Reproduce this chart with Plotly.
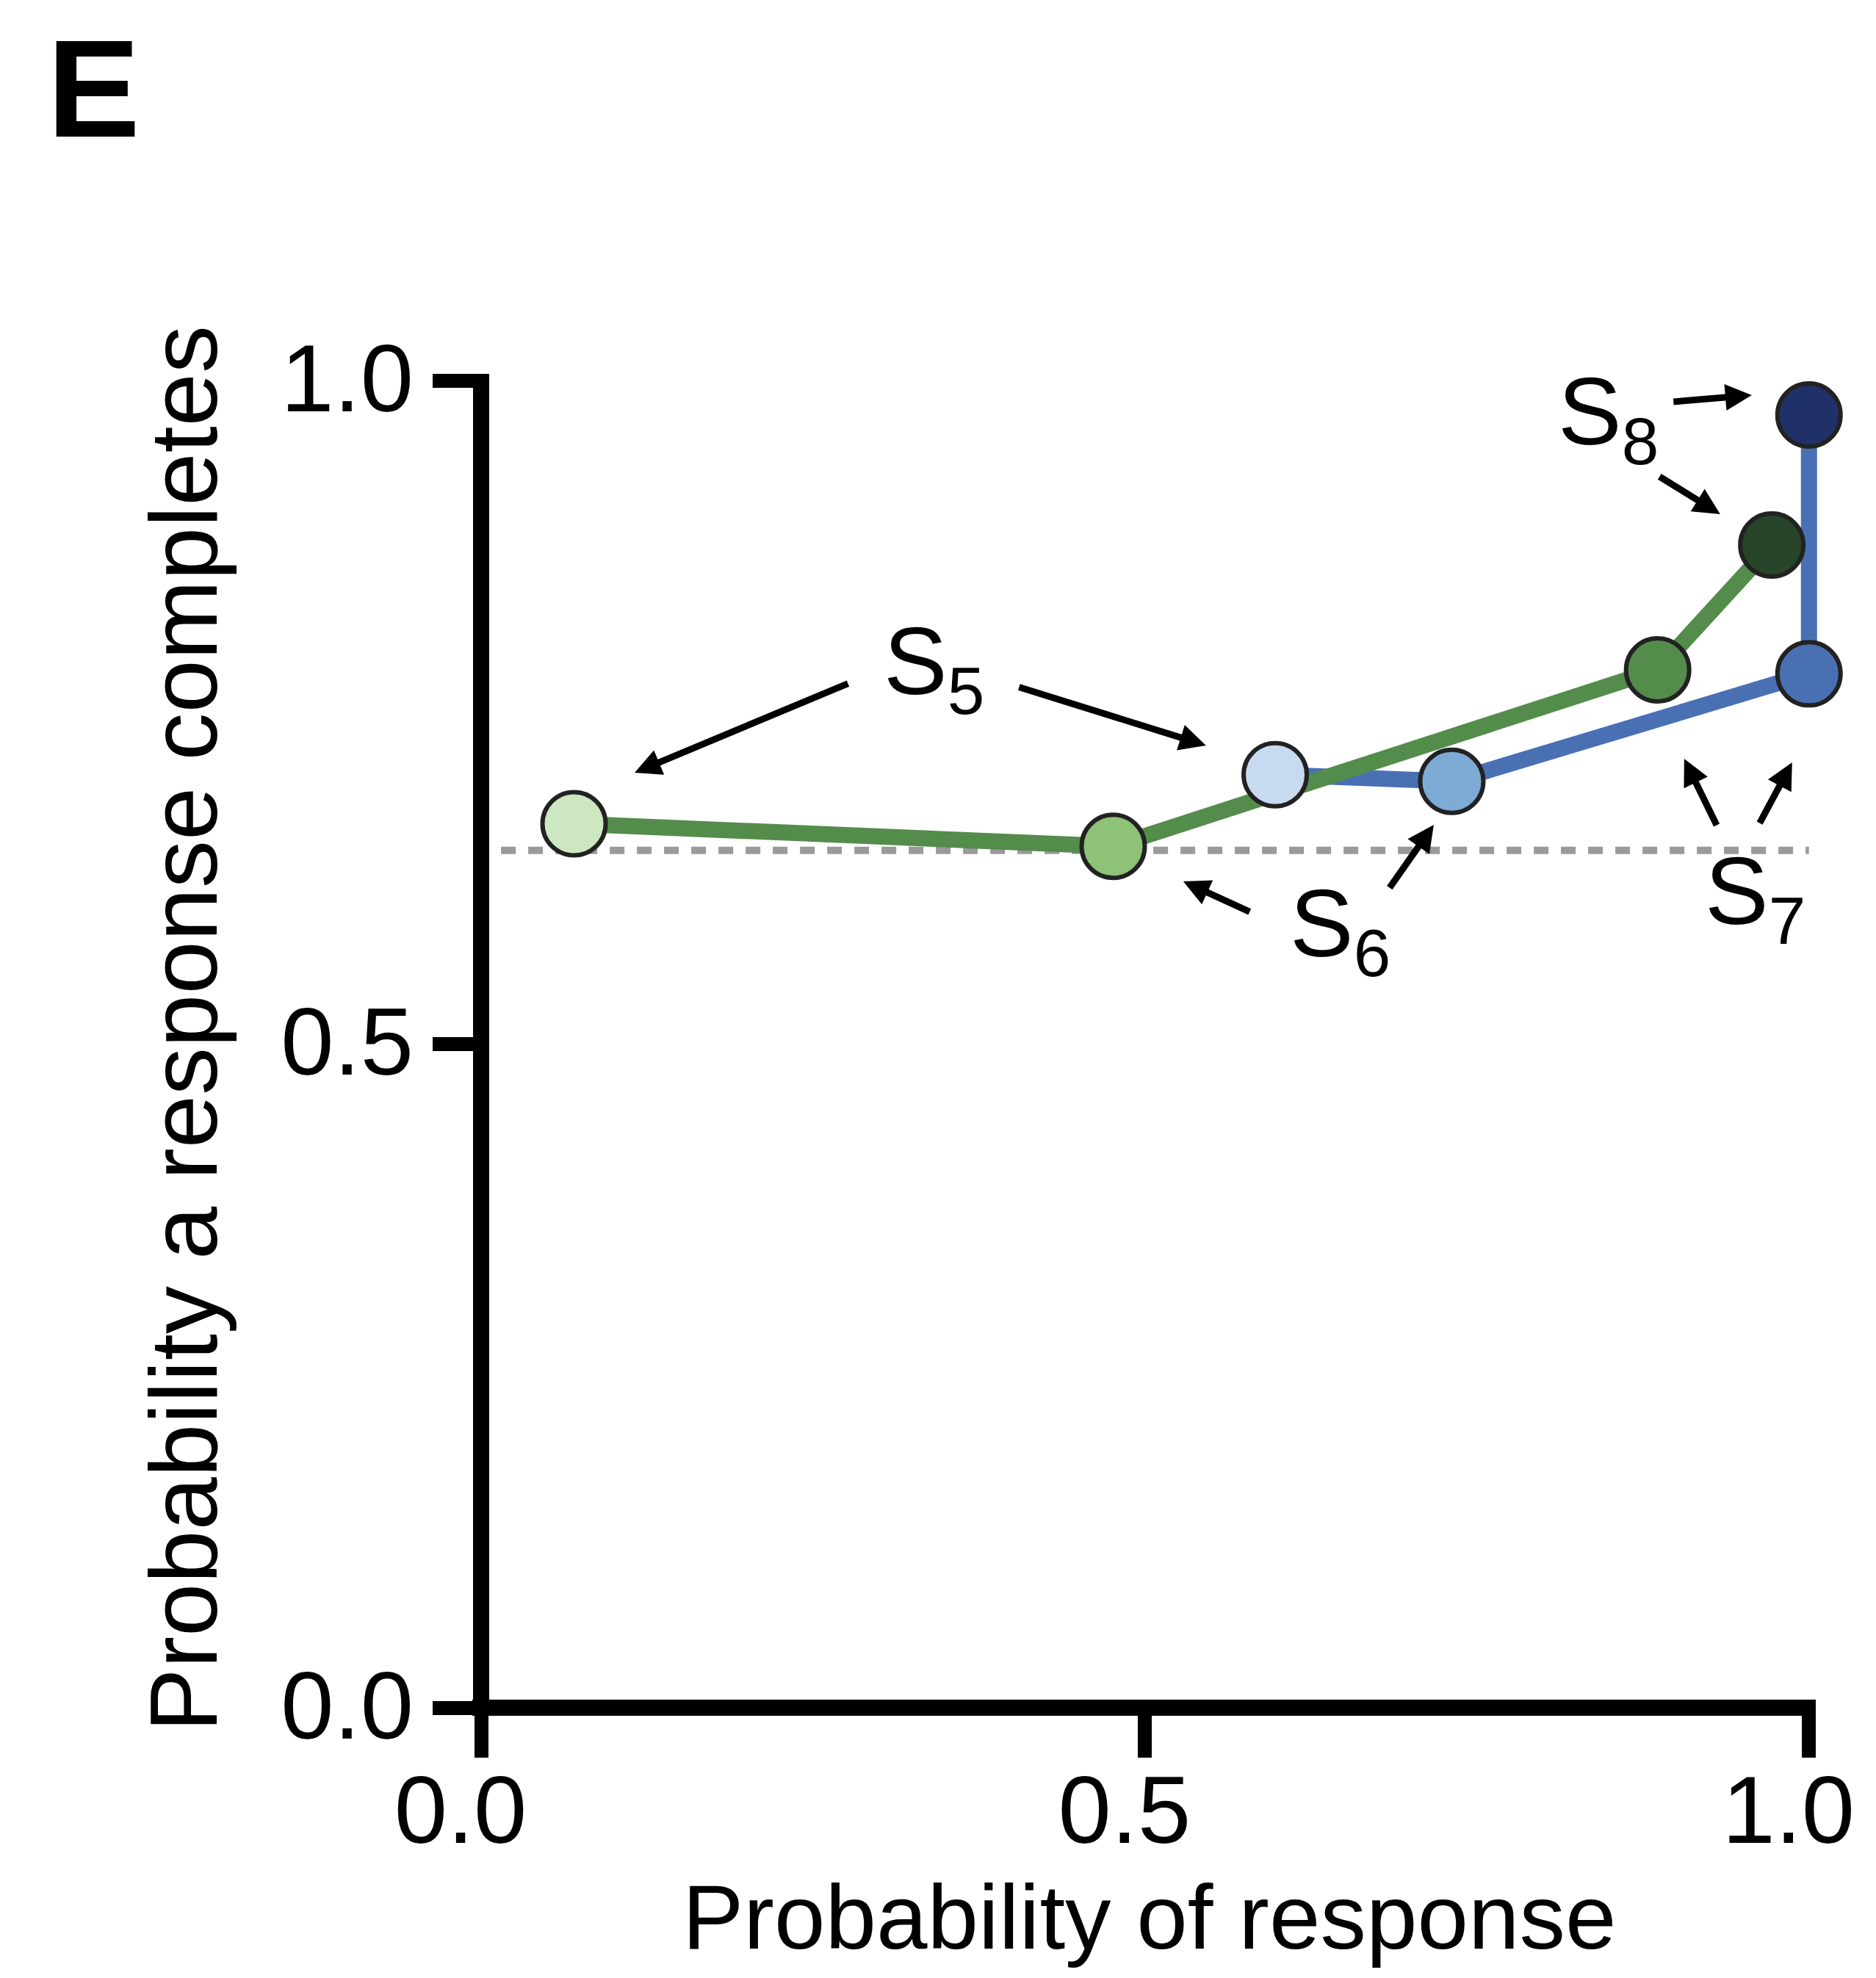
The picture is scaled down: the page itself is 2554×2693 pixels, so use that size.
import plotly.graph_objects as go

# Probability of response (x) vs probability a response completes (y)
green_x = [0.070, 0.476, 0.886, 0.972]
green_y = [0.666, 0.649, 0.782, 0.876]
green_fill = ["#CDE7C1", "#8DC277", "#548C4B", "#28452A"]

blue_x = [0.598, 0.731, 1.000, 1.000]
blue_y = [0.703, 0.698, 0.779, 0.974]
blue_fill = ["#C8DAF0", "#7EAAD6", "#4A70B4", "#1F3168"]

ref_x = [0.015, 1.0]
ref_y = [0.646, 0.646]

tick_vals = [0.0, 0.5, 1.0]
tick_text = ["0.0", "0.5", "1.0"]

GREEN = "#548C4B"
BLUE = "#4A70B4"
FONT = "Liberation Sans, Arial, Helvetica, sans-serif"

W, H = 2554, 2693
X_MAX = 1.03                      # a little room right of x=1 so the lines there are not clipped
UNIT_X = 1808                     # pixels per unit on x
UNIT_Y = 1807                     # pixels per unit on y
L, T = 655, 518
PLOT_W = round(UNIT_X * X_MAX)
R = W - L - PLOT_W
B = H - T - UNIT_Y


def px_x(px):
    """Horizontal page pixel -> paper coordinate."""
    return (px - L) / PLOT_W


def px_y(py):
    """Vertical page pixel -> paper coordinate."""
    return (T + UNIT_Y - py) / UNIT_Y


fig = go.Figure()

fig.add_trace(go.Scatter(
    x=ref_x, y=ref_y, mode="lines",
    line=dict(color="#9A9A9A", width=10, dash="20px,17px"),
    hoverinfo="skip"))

fig.add_trace(go.Scatter(
    x=blue_x, y=blue_y, mode="lines",
    line=dict(color=BLUE, width=22)))

fig.add_trace(go.Scatter(
    x=green_x, y=green_y, mode="lines",
    line=dict(color=GREEN, width=22)))

for xs, ys, fills in [(green_x, green_y, green_fill), (blue_x, blue_y, blue_fill)]:
    fig.add_trace(go.Scatter(
        x=xs, y=ys, mode="markers",
        marker=dict(size=86, color=fills, line=dict(color="#222222", width=6)),
        cliponaxis=False))

axis_common = dict(
    tickvals=tick_vals, ticktext=tick_text,
    showline=False, ticks="outside", tickwidth=19, tickcolor="black",
    showgrid=False, zeroline=False,
    tickfont=dict(family=FONT, size=130, color="black"),
)
fig.update_xaxes(range=[0, X_MAX], ticklen=67, ticklabelshift=-28,
                 ticklabelstandoff=-40, **axis_common)
fig.update_yaxes(range=[0, 1], ticklen=65, ticklabelshift=-4, **axis_common)

# axis spines, ending at the outer ticks
spine = dict(type="line", xref="paper", yref="paper", layer="above",
             line=dict(color="black", width=22))
shapes = [
    dict(x0=0, x1=0, y0=px_y(T + UNIT_Y + 11), y1=px_y(T - 9), **spine),
    dict(x0=px_x(L - 12), x1=px_x(L + UNIT_X + 9), y0=0, y1=0, **spine),
]

annotations = []

# axis titles
annotations.append(dict(
    text="Probability of response", xref="paper", yref="paper",
    x=px_x(1565), y=px_y(2538), xanchor="center", yanchor="top", showarrow=False,
    font=dict(family=FONT, size=125, color="black")))
annotations.append(dict(
    text="Probability a response completes", xref="paper", yref="paper",
    x=px_x(250), y=px_y(1401), xanchor="center", yanchor="middle", textangle=-90,
    showarrow=False, font=dict(family=FONT, size=130, color="black")))

# panel letter
annotations.append(dict(
    text="<b>E</b>", xref="paper", yref="paper", x=px_x(62), y=px_y(12),
    xanchor="left", yanchor="top", showarrow=False,
    font=dict(family=FONT, size=190, color="black")))

# stage labels
stage_labels = [("S<sub>5</sub>", 0.302, 0.830),
                ("S<sub>6</sub>", 0.6079, 0.6325),
                ("S<sub>7</sub>", 0.9204, 0.6569),
                ("S<sub>8</sub>", 0.8097, 1.0183)]
for txt, lx, ly in stage_labels:
    annotations.append(dict(
        text=txt, xref="x", yref="paper", x=lx, y=ly,
        xanchor="left", yanchor="top", showarrow=False,
        font=dict(family=FONT, size=130, color="black")))

# arrows: (head x, head y, tail x, tail y)
arrows = [(0.1156, 0.7045, 0.2771, 0.7720),
          (0.5459, 0.7250, 0.4043, 0.7692),
          (0.5288, 0.6226, 0.5796, 0.5993),
          (0.7174, 0.6652, 0.6836, 0.6170),
          (0.9060, 0.7150, 0.9309, 0.6641),
          (0.9873, 0.7122, 0.9624, 0.6657),
          (0.9569, 0.9889, 0.8971, 0.9839),
          (0.9331, 0.8993, 0.8866, 0.9281)]
for hx, hy, tx, ty in arrows:
    annotations.append(dict(
        x=hx, y=hy, ax=tx, ay=ty, xref="x", yref="y", axref="x", ayref="y",
        text="", showarrow=True, arrowhead=2, arrowsize=0.8, arrowwidth=9,
        arrowcolor="black", standoff=0, startstandoff=0))

fig.update_layout(
    width=W, height=H, autosize=False,
    margin=dict(l=L, r=R, t=T, b=B, pad=0, autoexpand=False),
    paper_bgcolor="white", plot_bgcolor="white",
    showlegend=False, annotations=annotations, shapes=shapes,
    font=dict(family=FONT, color="black"),
)

fig.write_html("out.html")
